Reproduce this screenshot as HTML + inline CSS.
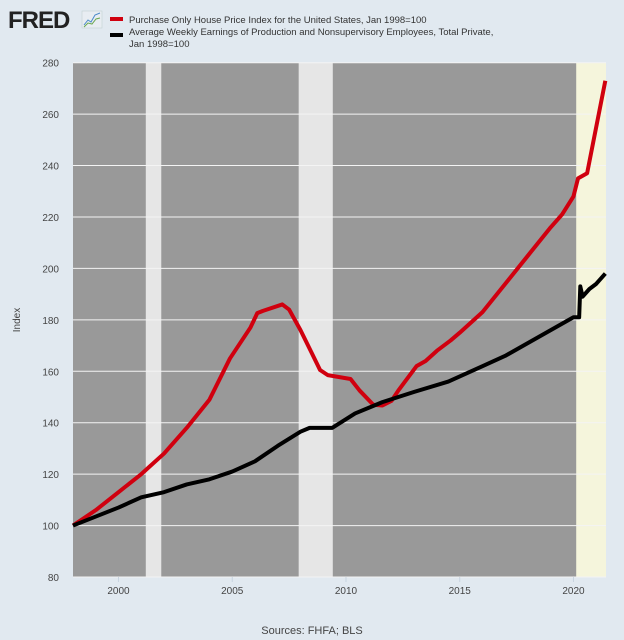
<!DOCTYPE html>
<html><head><meta charset="utf-8"><style>
body{margin:0;background:#e1e9f0;font-family:"Liberation Sans",sans-serif;}
svg{display:block}
</style></head><body>
<svg id="c" width="624" height="640" viewBox="0 0 624 640">
<rect width="624" height="640" fill="#e1e9f0"/>
<g>
<text x="8" y="28" font-size="24" font-weight="bold" fill="#222" letter-spacing="-1">FRED</text>
<rect x="82" y="11" width="20" height="17" fill="#e8edf2" stroke="#bcc" stroke-width="0.5"/>
<polyline points="84,25 88,20 91,22 95,15 100,13" fill="none" stroke="#4a8ac9" stroke-width="1"/>
<polyline points="84,27 88,23 92,24 96,19 100,18" fill="none" stroke="#6aa84f" stroke-width="1"/>
</g>
<g font-size="9.5" fill="#333">
<rect x="110" y="17" width="13" height="4" fill="#d0000f"/>
<text x="129" y="23">Purchase Only House Price Index for the United States, Jan 1998=100</text>
<rect x="110" y="33" width="13" height="4" fill="#000"/>
<text x="129" y="35">Average Weekly Earnings of Production and Nonsupervisory Employees, Total Private,</text>
<text x="129" y="47">Jan 1998=100</text>
</g>
<g id="plot"></g>
<text x="20" y="320" font-size="10" fill="#444" transform="rotate(-90 20 320)" text-anchor="middle">Index</text>
<text x="312" y="634" font-size="11" fill="#444" text-anchor="middle">Sources: FHFA; BLS</text>
</svg>
<script>
const yTicks=[80,100,120,140,160,180,200,220,240,260,280];
const xTicks=[2000,2005,2010,2015,2020];
const recessions=[[2001.2,2001.88],[2007.92,2009.42]];
const covid=[2020.12,2021.5];
const hpiX=[1998,1999,2000,2001,2002,2003,2004,2004.9,2005.8,2006.1,2006.35,2007.2,2007.5,2008,2008.5,2008.86,2009.2,2010.2,2010.6,2011.2,2011.6,2012,2012.3,2013.1,2013.5,2014,2014.6,2015,2016,2017,2018,2019,2019.5,2020,2020.2,2020.6,2021,2021.4];
const hpiY=[100,106,113,120,128,138,149,165,177,182.6,183.5,186,184,176,167,160.5,158.5,157,152.5,147,146.7,148.5,152.5,162,164,168,172,175,183,194,205,216,221,228,235,237,255,273];
const earnX=[1998,2000,2001,2002,2003,2004,2005,2006,2007,2008,2008.4,2009.4,2010.4,2011.6,2013,2014.5,2015,2016,2017,2018,2019,2020,2020.25,2020.3,2020.4,2020.7,2021,2021.4];
const earnY=[100,107,111,113,116,118,121,125,131,136.5,138,138,143.6,148,152,156,158,162,166,171,176,181,181,193,189,192,194,198];
const L=73,R=606,T=62.7,B=577,x0=1998,x1=2021.43,ymin=80,ymax=280;
const sx=v=>L+(v-x0)/(x1-x0)*(R-L);
const sy=v=>B-(v-ymin)/(ymax-ymin)*(B-T);
const NS="http://www.w3.org/2000/svg";
const g=document.getElementById('plot');
function mk(t,a){const e=document.createElementNS(NS,t);for(const k in a)e.setAttribute(k,a[k]);g.appendChild(e);return e;}
let e=mk('rect',{x:L,y:T,width:R-L,height:B-T,fill:'#999999'});


recessions.forEach(r=>{const el=mk('rect',{x:sx(r[0]),y:T,width:sx(r[1])-sx(r[0]),height:B-T,fill:'#e6e6e6'});

});
e=mk('rect',{x:sx(covid[0]),y:T,width:R-sx(covid[0]),height:B-T,fill:'#f5f5dc'});


yTicks.forEach(v=>{const ln=mk('line',{x1:L,x2:R,y1:sy(v),y2:sy(v),stroke:'#f4f4f4','stroke-width':1});


const t=mk('text',{x:59,y:sy(v)+4,'font-size':10,fill:'#444','text-anchor':'end'});t.textContent=v;

});
xTicks.forEach(v=>{const ln=mk('line',{x1:sx(v),x2:sx(v),y1:B,y2:B+5,stroke:'#c8d4e0'});


const t=mk('text',{x:sx(v),y:B+17,'font-size':10,fill:'#444','text-anchor':'middle'});t.textContent=v;

});
function line(xs,ys,c,n){const p=mk('polyline',{points:xs.map((x,i)=>sx(x)+','+sy(ys[i])).join(' '),fill:'none',stroke:c,'stroke-width':4,'stroke-linejoin':'round'});

}
line(hpiX,hpiY,'#d0000f','hpi-line');
line(earnX,earnY,'#000','earnings-line');
</script>
</body></html>
